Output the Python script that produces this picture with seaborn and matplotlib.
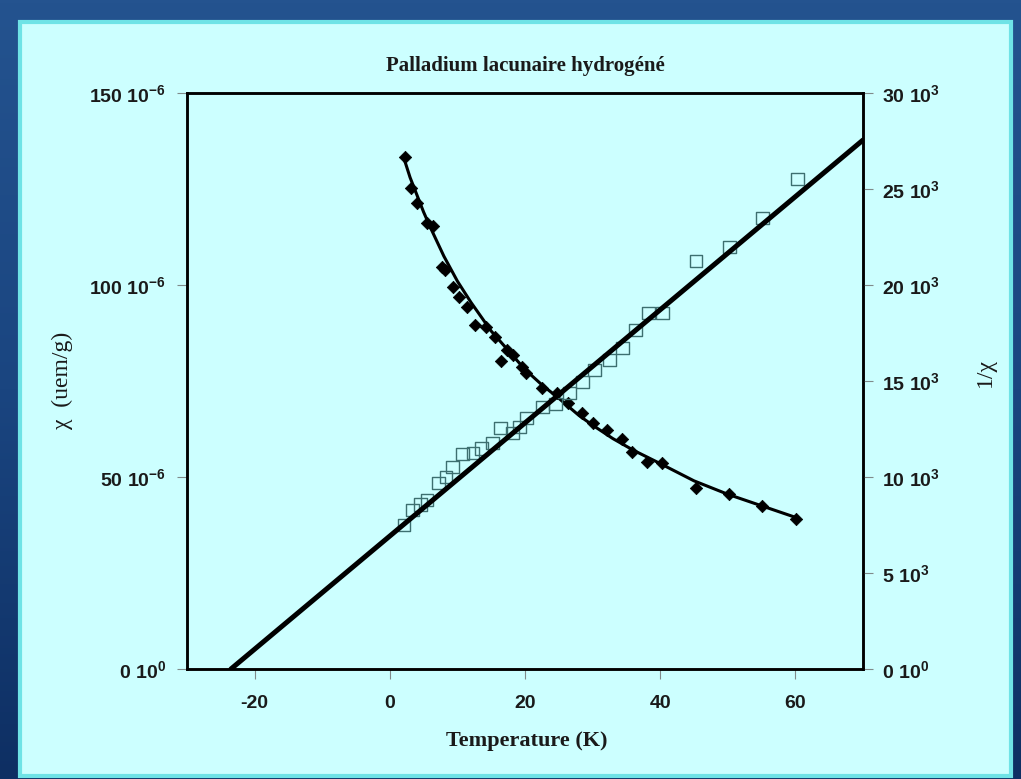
import numpy as np
import matplotlib
matplotlib.use("Agg")
import matplotlib.pyplot as plt
import seaborn as sns
from matplotlib.patches import Rectangle

# chi data (T in K, chi in 1e-6 uem/g) - filled diamonds
chi_T = [2.2, 3.1, 4.0, 5.5, 6.4, 7.7, 8.1, 9.3, 10.3, 11.4, 12.6, 14.3, 15.5, 16.4,
         17.4, 18.2, 19.5, 20.2, 22.5, 24.7, 26.3, 28.4, 30.0, 32.1, 34.3, 35.9,
         38.1, 40.2, 45.3, 50.2, 55.1, 60.1]
chi_val = [133.3, 125.3, 121.3, 116.1, 115.4, 104.7, 103.9, 99.5, 96.9, 94.3, 89.6,
           89.1, 86.5, 80.2, 83.1, 81.8, 78.6, 77.1, 73.2, 71.9, 69.3, 66.7, 64.0,
           62.2, 59.9, 56.5, 53.9, 53.6, 47.1, 45.6, 42.4, 39.1]

# 1/chi data (T in K, 1/chi in 1e3) - open squares
inv_T = [2.1, 3.4, 4.5, 5.5, 7.2, 8.3, 9.3, 10.8, 12.3, 13.6, 15.2, 16.4, 18.2, 19.2,
         20.2, 22.6, 24.5, 26.6, 28.5, 30.3, 32.5, 34.4, 36.3, 38.3, 40.3, 45.3,
         50.2, 55.1, 60.3]
inv_val = [7.50, 8.28, 8.55, 8.80, 9.69, 10.0, 10.52, 11.2, 11.25, 11.5, 11.77, 12.55,
           12.29, 12.6, 13.07, 13.65, 13.80, 14.37, 14.95, 15.57, 16.09, 16.72, 17.66,
           18.54, 18.54, 21.25, 21.98, 23.49, 25.52]

# fitted curve for chi
curve_T = [2, 3, 4, 5, 6, 8, 10, 12, 15, 18, 20, 22.5, 25, 28, 30, 33, 36, 40, 45,
           50, 55, 60]
curve_chi = [133.5, 128, 123.5, 119, 115, 107.5, 101, 95.5, 88, 82, 78, 74, 70.5, 66,
             63.5, 60, 57, 53.5, 49, 45.5, 42.5, 39.5]

# linear fit of 1/chi
line_T = [-23.5, 70]
line_inv = [0, 27.55]

x_ticks = [-20, 0, 20, 40, 60]
x_labels = ["-20", "0", "20", "40", "60"]
left_ticks = [0, 50, 100, 150]
left_labels = ["0 10$^{0}$", "50 10$^{-6}$", "100 10$^{-6}$", "150 10$^{-6}$"]
right_ticks = [0, 5, 10, 15, 20, 25, 30]
right_labels = ["0 10$^{0}$", "5 10$^{3}$", "10 10$^{3}$", "15 10$^{3}$",
                "20 10$^{3}$", "25 10$^{3}$", "30 10$^{3}$"]

sns.set_style("ticks")
plt.rcParams["font.family"] = ["Liberation Sans", "DejaVu Sans"]
plt.rcParams["mathtext.fontset"] = "custom"
plt.rcParams["mathtext.rm"] = "Liberation Sans:bold"
plt.rcParams["mathtext.default"] = "rm"
plt.rcParams["axes.unicode_minus"] = False

W, H = 1021, 779
fig = plt.figure(figsize=(W / 100, H / 100), dpi=100)

# slide background
bg = fig.add_axes([0, 0, 1, 1])
grad = np.linspace(0, 1, 256).reshape(-1, 1) * np.ones((1, 4))
bg.imshow(grad, aspect="auto", cmap=matplotlib.colors.LinearSegmentedColormap.from_list(
    "slide", ["#24538f", "#1a4580", "#0e2f63"]), extent=[0, 1, 0, 1])
bg.set_axis_off()
fig.patches.append(Rectangle((20 / W, 3 / H), (1011 - 20) / W, (776 - 22) / H,
                             transform=fig.transFigure, facecolor="#ccffff",
                             edgecolor="#6fe3e6", linewidth=3, zorder=1))

ax = fig.add_axes([187 / W, 1 - 669 / H, (863 - 187) / W, (669 - 93) / H], zorder=2)
ax.set_facecolor("#ccffff")
ax2 = ax.twinx()

sns.scatterplot(x=inv_T, y=inv_val, ax=ax2, marker="s", s=85, facecolor="none",
                edgecolor="#3d6f70", linewidth=1.0, zorder=2)
sns.lineplot(x=line_T, y=line_inv, ax=ax2, color="black", linewidth=3.6, zorder=3)

sns.scatterplot(x=chi_T, y=chi_val, ax=ax, marker="D", s=40, color="black",
                edgecolor="black", zorder=3)
sns.lineplot(x=curve_T, y=curve_chi, ax=ax, color="black", linewidth=2.2, zorder=3)

ax.set_xlim(-30, 70)
ax.set_ylim(0, 150)
ax2.set_ylim(0, 30)

ax.set_xticks(x_ticks)
ax.set_xticklabels(x_labels)
ax.set_yticks(left_ticks)
ax.set_yticklabels(left_labels)
ax2.set_yticks(right_ticks)
ax2.set_yticklabels(right_labels)

for a in (ax, ax2):
    for sp in a.spines.values():
        sp.set_linewidth(1.8)
        sp.set_color("black")
    a.tick_params(direction="out", length=7, width=0.8, color="#808a8a",
                  labelsize=14, labelcolor="#1a1a1a")
    for lab in a.get_xticklabels() + a.get_yticklabels():
        lab.set_fontweight("bold")
ax.tick_params(axis="x", pad=12)
ax.tick_params(axis="y", pad=8)
ax2.tick_params(axis="y", pad=7)
ax.set_xlabel("")
ax.set_ylabel("")
ax2.set_ylabel("")

fig.text(525 / W, 1 - 66 / H, "Palladium lacunaire hydrogéné", ha="center", va="center",
         family="Liberation Serif", fontweight="bold", fontsize=15, color="#1a1a1a")
fig.text(527 / W, 1 - 741 / H, "Temperature (K)", ha="center", va="center",
         family="Liberation Serif", fontweight="bold", fontsize=16, color="#1a1a1a")
fig.text(62 / W, 1 - 380 / H, "χ  (uem/g)", ha="center", va="center", rotation=90,
         family="Liberation Serif", fontsize=17, color="#1a1a1a")
fig.text(985 / W, 1 - 372 / H, "1/χ", ha="center", va="center", rotation=90,
         family="Liberation Serif", fontsize=17, color="#1a1a1a")

fig.savefig("out.png", dpi=100)
